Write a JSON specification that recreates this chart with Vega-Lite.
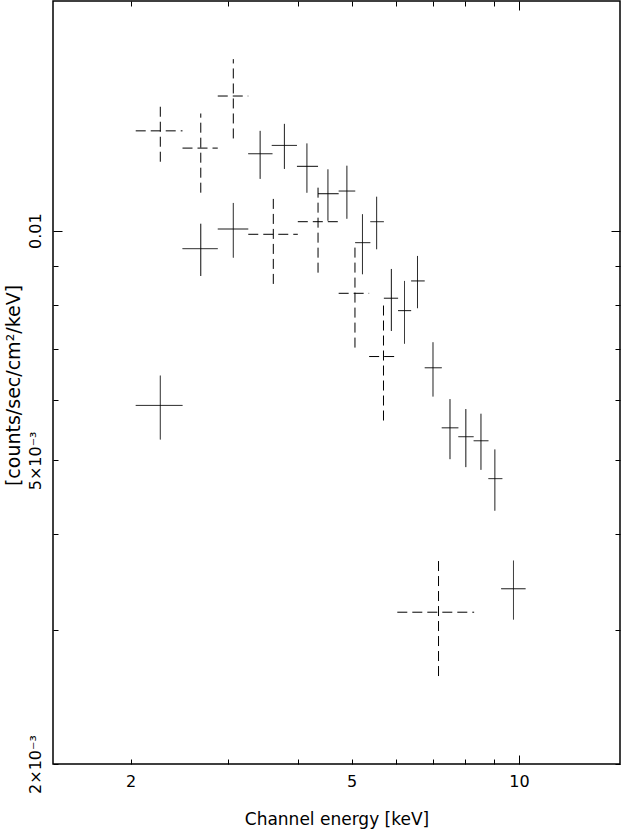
{
  "$schema": "https://vega.github.io/schema/vega-lite/v6.json",
  "width": 567,
  "height": 763,
  "autosize": {"type": "none"},
  "padding": {"left": 53, "top": 1, "right": 1, "bottom": 65},
  "background": "white",
  "config": {
    "view": {"stroke": "#000", "strokeWidth": 1.5},
    "font": "DejaVu Sans"
  },
  "data": {
    "values": [
      {"set": "solid", "x": 2.262, "xlo": 2.043, "xhi": 2.480, "y": 0.005902, "ylo": 0.005325, "yhi": 0.006458},
      {"set": "solid", "x": 2.675, "xlo": 2.480, "xhi": 2.870, "y": 0.009472, "ylo": 0.008723, "yhi": 0.010213},
      {"set": "solid", "x": 3.061, "xlo": 2.870, "xhi": 3.257, "y": 0.010051, "ylo": 0.009219, "yhi": 0.010873},
      {"set": "solid", "x": 3.421, "xlo": 3.257, "xhi": 3.601, "y": 0.012614, "ylo": 0.011694, "yhi": 0.013516},
      {"set": "solid", "x": 3.783, "xlo": 3.590, "xhi": 3.985, "y": 0.012935, "ylo": 0.012052, "yhi": 0.013804},
      {"set": "solid", "x": 4.153, "xlo": 3.985, "xhi": 4.349, "y": 0.012144, "ylo": 0.011215, "yhi": 0.013013},
      {"set": "solid", "x": 4.531, "xlo": 4.349, "xhi": 4.737, "y": 0.011180, "ylo": 0.010306, "yhi": 0.012035},
      {"set": "solid", "x": 4.901, "xlo": 4.737, "xhi": 5.074, "y": 0.011271, "ylo": 0.010368, "yhi": 0.012166},
      {"set": "solid", "x": 5.228, "xlo": 5.074, "xhi": 5.402, "y": 0.009645, "ylo": 0.008768, "yhi": 0.010507},
      {"set": "solid", "x": 5.544, "xlo": 5.402, "xhi": 5.713, "y": 0.010275, "ylo": 0.009455, "yhi": 0.011079},
      {"set": "solid", "x": 5.893, "xlo": 5.713, "xhi": 6.060, "y": 0.008156, "ylo": 0.007390, "yhi": 0.008909},
      {"set": "solid", "x": 6.223, "xlo": 6.060, "xhi": 6.397, "y": 0.007856, "ylo": 0.007112, "yhi": 0.008593},
      {"set": "solid", "x": 6.567, "xlo": 6.397, "xhi": 6.767, "y": 0.008593, "ylo": 0.007914, "yhi": 0.009266},
      {"set": "solid", "x": 7.003, "xlo": 6.767, "xhi": 7.261, "y": 0.006612, "ylo": 0.006062, "yhi": 0.007142},
      {"set": "solid", "x": 7.514, "xlo": 7.261, "xhi": 7.780, "y": 0.005516, "ylo": 0.005018, "yhi": 0.006015},
      {"set": "solid", "x": 8.024, "xlo": 7.780, "xhi": 8.288, "y": 0.005370, "ylo": 0.004899, "yhi": 0.005837},
      {"set": "solid", "x": 8.543, "xlo": 8.288, "xhi": 8.812, "y": 0.005305, "ylo": 0.004860, "yhi": 0.005756},
      {"set": "solid", "x": 9.049, "xlo": 8.812, "xhi": 9.335, "y": 0.004732, "ylo": 0.004296, "yhi": 0.005168},
      {"set": "solid", "x": 9.775, "xlo": 9.290, "xhi": 10.28, "y": 0.003394, "ylo": 0.003093, "yhi": 0.003695},
      {"set": "dashed", "x": 2.262, "xlo": 2.043, "xhi": 2.480, "y": 0.013516, "ylo": 0.012313, "yhi": 0.014715},
      {"set": "dashed", "x": 2.675, "xlo": 2.480, "xhi": 2.870, "y": 0.012830, "ylo": 0.011215, "yhi": 0.014243},
      {"set": "dashed", "x": 3.061, "xlo": 2.870, "xhi": 3.257, "y": 0.015014, "ylo": 0.013209, "yhi": 0.016781},
      {"set": "dashed", "x": 3.613, "xlo": 3.257, "xhi": 3.999, "y": 0.009892, "ylo": 0.008516, "yhi": 0.011058},
      {"set": "dashed", "x": 4.349, "xlo": 3.999, "xhi": 4.737, "y": 0.010275, "ylo": 0.008810, "yhi": 0.011398},
      {"set": "dashed", "x": 5.068, "xlo": 4.737, "xhi": 5.375, "y": 0.008278, "ylo": 0.007027, "yhi": 0.009645},
      {"set": "dashed", "x": 5.704, "xlo": 5.375, "xhi": 6.060, "y": 0.006840, "ylo": 0.005639, "yhi": 0.008071},
      {"set": "dashed", "x": 7.165, "xlo": 6.040, "xhi": 8.305, "y": 0.003162, "ylo": 0.002608, "yhi": 0.003718}
    ]
  },
  "layer": [
    {
      "mark": {"type": "rule", "color": "#000", "strokeWidth": 1},
      "encoding": {
        "x": {
          "field": "xlo", "type": "quantitative",
          "scale": {"type": "log", "domain": [1.45, 15.2], "nice": false},
          "axis": {
            "values": [2, 3, 4, 5, 6, 7, 8, 9, 10],
            "labelExpr": "(datum.value == 2 || datum.value == 5 || datum.value == 10) ? format(datum.value, 'd') : ''",
            "domain": false,
            "ticks": false,
            "tickSize": 0,
            "grid": true,
            "gridColor": "#000",
            "gridOpacity": 1,
            "gridWidth": 1,
            "gridDash": {"condition": {"test": "datum.value == 10", "value": [9, 745]}, "value": [5, 753]},
            "labelFont": "DejaVu Sans",
            "labelFontSize": 16,
            "labelColor": "#000",
            "labelBaseline": "middle",
            "labelPadding": 17,
            "labelFlush": false,
            "labelOverlap": false,
            "title": "Channel energy [keV]",
            "titleFont": "DejaVu Sans",
            "titleFontSize": 17,
            "titleFontWeight": "normal",
            "titleColor": "#000",
            "titleX": 283.5,
            "titleY": 55,
            "titleBaseline": "middle",
            "titleAlign": "center"
          }
        },
        "x2": {"field": "xhi"},
        "y": {
          "field": "y", "type": "quantitative",
          "scale": {"type": "log", "domain": [0.002, 0.02], "nice": false},
          "axis": {
            "values": [0.002, 0.003, 0.004, 0.005, 0.006, 0.007, 0.008, 0.009, 0.01],
            "labelExpr": "abs(datum.value - 0.01) < 1e-9 ? '0.01' : abs(datum.value - 0.005) < 1e-9 ? '5×10⁻³' : abs(datum.value - 0.002) < 1e-9 ? '2×10⁻³' : ''",
            "domain": false,
            "ticks": false,
            "tickSize": 0,
            "grid": true,
            "gridColor": "#000",
            "gridOpacity": 1,
            "gridWidth": 1,
            "gridDash": {"condition": {"test": "abs(datum.value - 0.01) < 1e-9", "value": [9, 549]}, "value": [5, 557]},
            "labelFont": "DejaVu Sans",
            "labelFontSize": 16,
            "labelColor": "#000",
            "labelAngle": 270,
            "labelAlign": "center",
            "labelBaseline": "middle",
            "labelPadding": 18,
            "labelFlush": false,
            "labelOverlap": false,
            "title": "[counts/sec/cm²/keV]",
            "titleFont": "DejaVu Sans",
            "titleFontSize": 19,
            "titleFontWeight": "normal",
            "titleColor": "#000",
            "titleAngle": 270,
            "titleX": -40,
            "titleY": 384,
            "titleAlign": "center",
            "titleBaseline": "middle"
          }
        },
        "strokeDash": {
          "field": "set", "type": "nominal",
          "scale": {"domain": ["solid", "dashed"], "range": [[1, 0], [10, 5]]},
          "legend": null
        }
      }
    },
    {
      "mark": {"type": "rule", "color": "#000", "strokeWidth": 1},
      "encoding": {
        "x": {"field": "x", "type": "quantitative"},
        "y": {"field": "ylo", "type": "quantitative"},
        "y2": {"field": "yhi"},
        "strokeDash": {
          "field": "set", "type": "nominal",
          "scale": {"domain": ["solid", "dashed"], "range": [[1, 0], [10, 5]]},
          "legend": null
        }
      }
    }
  ]
}
